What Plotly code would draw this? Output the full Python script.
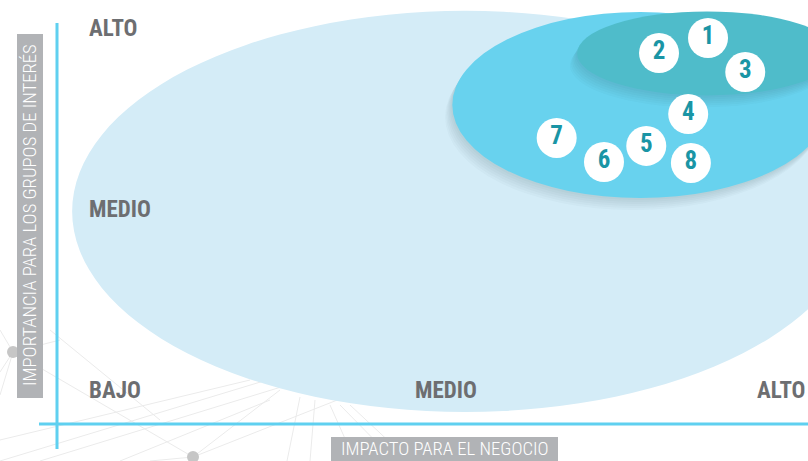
import plotly.graph_objects as go

W, H = 808, 461

# ---- data -------------------------------------------------------------
topic_ids = ["1", "2", "3", "4", "5", "6", "7", "8"]
impact = [1.782, 1.636, 1.893, 1.723, 1.598, 1.472, 1.331, 1.731]        # x: impacto para el negocio
importance = [1.950, 1.867, 1.762, 1.530, 1.354, 1.265, 1.398, 1.260]    # y: importancia grupos de interés

level_labels = ["BAJO", "MEDIO", "ALTO"]
level_values = [0, 1, 2]

# zones: (center_x, center_y, radius_x, radius_y, colour)
zone_names = ["low", "medium", "high"]
zone_cx = [1.058, 1.580, 1.779]
zone_cy = [0.992, 1.580, 1.865]
zone_rx = [1.171, 0.560, 0.387]
zone_ry = [1.108, 0.514, 0.232]
zone_colors = ["#d4ecf7", "#68d2ee", "#4fbcca"]

x_title = "IMPACTO PARA EL NEGOCIO"
y_title = "IMPORTANCIA PARA LOS GRUPOS DE INTERÉS"

# axis ranges (value units)
x_range = [-0.328, 2.080]
y_range = [-0.387, 2.160]

# decorative background network (pixel coords)
net_lines = [
    (0, 330, 13, 352), (0, 372, 13, 352), (0, 395, 13, 352), (13, 352, 193, 457),
    (13, 352, 60, 340), (193, 457, 280, 390), (193, 457, 350, 395), (193, 457, 150, 461),
    (0, 461, 300, 370), (40, 461, 330, 372), (0, 440, 250, 380), (120, 461, 270, 400),
    (300, 397, 287, 461), (315, 400, 310, 461), (330, 405, 355, 461), (340, 405, 395, 461),
    (350, 405, 410, 461), (50, 330, 160, 420),
]
net_dots = [(13, 352), (193, 457)]

FONT = "Roboto Condensed, DejaVu Sans Condensed, sans-serif"

# ---- figure -----------------------------------------------------------
fig = go.Figure()

def px(xp):
    return xp / W

def py(yp):
    return 1 - yp / H

UX = (x_range[1] - x_range[0]) / W   # value units per pixel (x)
UY = (y_range[1] - y_range[0]) / H   # value units per pixel (y)

shapes = []
for (x0, y0, x1, y1) in net_lines:
    shapes.append(dict(type="line", xref="paper", yref="paper",
                       x0=px(x0), y0=py(y0), x1=px(x1), y1=py(y1),
                       line=dict(color="#ebebeb", width=1), layer="below"))
for (xd, yd) in net_dots:
    shapes.append(dict(type="circle", xref="paper", yref="paper",
                       x0=px(xd - 6), x1=px(xd + 6), y0=py(yd - 6), y1=py(yd + 6),
                       fillcolor="#c6c6c6", line=dict(width=0), layer="below"))

# ellipses with soft shadows
for i, name in enumerate(zone_names):
    cx, cy, rx, ry, col = zone_cx[i], zone_cy[i], zone_rx[i], zone_ry[i], zone_colors[i]
    if i > 0:
        for k in range(1, 7):
            dx = -1.2 * k * UX
            dy = -2.0 * k * UY
            shapes.append(dict(type="circle", xref="x", yref="y",
                               x0=cx - rx + dx, x1=cx + rx + dx,
                               y0=cy - ry + dy, y1=cy + ry + dy,
                               fillcolor="rgba(20,60,80,0.028)", line=dict(width=0),
                               layer="below"))
    shapes.append(dict(type="circle", xref="x", yref="y",
                       x0=cx - rx, x1=cx + rx, y0=cy - ry, y1=cy + ry,
                       fillcolor=col, line=dict(width=0), layer="below"))

# axes lines
axis_col = "#5fd0f0"
shapes.append(dict(type="line", xref="paper", yref="paper",
                   x0=px(57), x1=px(57), y0=py(23), y1=py(449),
                   line=dict(color=axis_col, width=3)))
shapes.append(dict(type="line", xref="paper", yref="paper",
                   x0=px(39), x1=px(808), y0=py(424), y1=py(424),
                   line=dict(color=axis_col, width=3)))
# title boxes
shapes.append(dict(type="rect", xref="paper", yref="paper",
                   x0=px(17), x1=px(43), y0=py(34), y1=py(398),
                   fillcolor="#b1b3b6", line=dict(width=0)))
shapes.append(dict(type="rect", xref="paper", yref="paper",
                   x0=px(331), x1=px(558), y0=py(437), y1=py(461),
                   fillcolor="#b1b3b6", line=dict(width=0)))

fig.add_trace(go.Scatter(
    x=impact, y=importance, mode="markers+text",
    text=[f"<b>{t}</b>" for t in topic_ids],
    textposition="middle center",
    textfont=dict(family=FONT, size=25, color="#1a95a5"),
    marker=dict(size=40, color="white", line=dict(width=0)),
    hoverinfo="skip", showlegend=False, cliponaxis=False,
))

lab_font = dict(family=FONT, size=23, color="#6d6e71")
annotations = []
# y-axis level labels (left aligned)
y_lab_x = x_range[0] + 87 * UX
for lab, v in zip(level_labels, level_values):
    annotations.append(dict(x=y_lab_x, y=v, xref="x", yref="y", text=f"<b>{lab}</b>",
                            showarrow=False, xanchor="left", yanchor="middle", font=lab_font))
# x-axis level labels (BAJO shared at the corner)
for lab, v in zip(level_labels[1:], level_values[1:]):
    annotations.append(dict(x=v, y=0, xref="x", yref="y", text=f"<b>{lab}</b>",
                            showarrow=False, xanchor="center", yanchor="middle", font=lab_font))

title_font = dict(family=FONT, size=18.7, color="white", weight=300)
annotations.append(dict(x=px(445), y=py(449), xref="paper", yref="paper", text=x_title,
                        showarrow=False, xanchor="center", yanchor="middle", font=title_font))
annotations.append(dict(x=px(30), y=py(215), xref="paper", yref="paper", text=y_title,
                        showarrow=False, xanchor="center", yanchor="middle", textangle=-90,
                        font=title_font))

fig.update_layout(
    width=W, height=H,
    margin=dict(l=0, r=0, t=0, b=0),
    paper_bgcolor="white", plot_bgcolor="white",
    shapes=shapes, annotations=annotations,
    xaxis=dict(range=x_range, visible=False, fixedrange=True),
    yaxis=dict(range=y_range, visible=False, fixedrange=True),
)

fig.write_html("out.html", config={"displayModeBar": False},
               post_script="document.body.style.margin='0px';")
